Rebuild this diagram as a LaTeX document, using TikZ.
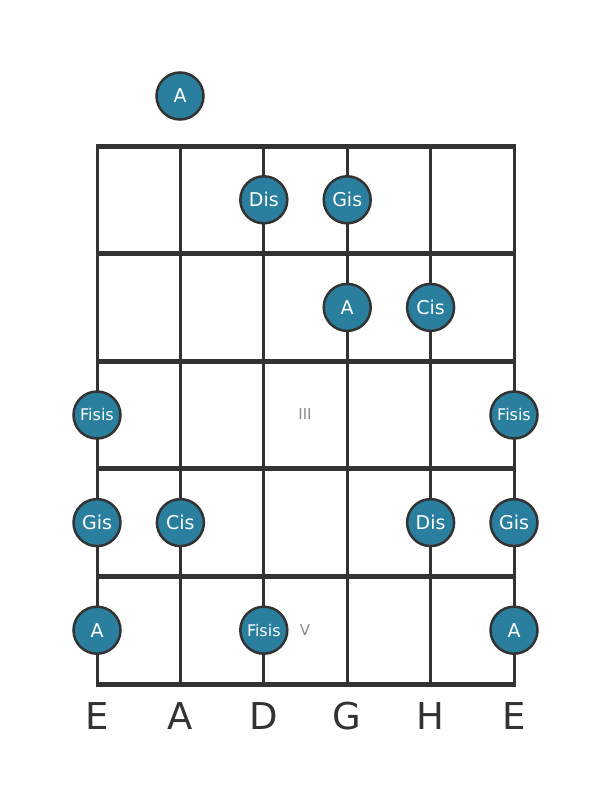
\documentclass[tikz,border=0pt]{standalone}
\usepackage{fontspec}
\setmainfont{DejaVu Sans}
\definecolor{NoteClr}{HTML}{2A7F9E}
\definecolor{LineClr}{HTML}{333333}
\definecolor{MarkClr}{HTML}{8A8A8A}

\begin{document}
\begin{tikzpicture}[x=1pt,y=-1pt,
  note/.style={circle,draw=LineClr,line width=2.5pt,fill=NoteClr,text=white,
    minimum size=47pt,inner sep=0pt,font=\fontsize{19}{19}\selectfont},
  small/.style={font=\fontsize{16}{16}\selectfont},
  fretmark/.style={text=MarkClr,font=\fontsize{15}{15}\selectfont}]
\useasboundingbox (0,0) rectangle (611,801);

% strings and their names
\foreach \s [count=\i from 0] in {E,A,D,G,H,E}{
  \draw[LineClr,line width=3pt] (97+83.4*\i,146) -- (97+83.4*\i,684);
  \node[text=LineClr,font=\fontsize{37}{37}\selectfont] (s\i) at (97+83.4*\i,716) {\s};
}

% frets
\foreach \f in {0,...,5}
  \draw[LineClr,line width=5pt] (95.5,146+107.6*\f) -- (515.5,146+107.6*\f);

\node[fretmark] (III) at (305,414) {III};
\node[fretmark] (V) at (305,630) {V};

% notes: string/fret/name
\node[note] (n10) at (180,96) {A};
\foreach \i/\j/\n in {2/1/Dis,3/1/Gis,3/2/A,4/2/Cis,0/4/Gis,1/4/Cis,4/4/Dis,5/4/Gis,0/5/A,5/5/A}
  \node[note] (n\i\j) at (97+83.4*\i,92.2+107.6*\j) {\n};
\foreach \i/\j in {0/3,5/3,2/5}
  \node[note,small] (n\i\j) at (97+83.4*\i,92.2+107.6*\j) {Fisis};

\end{tikzpicture}
\end{document}
